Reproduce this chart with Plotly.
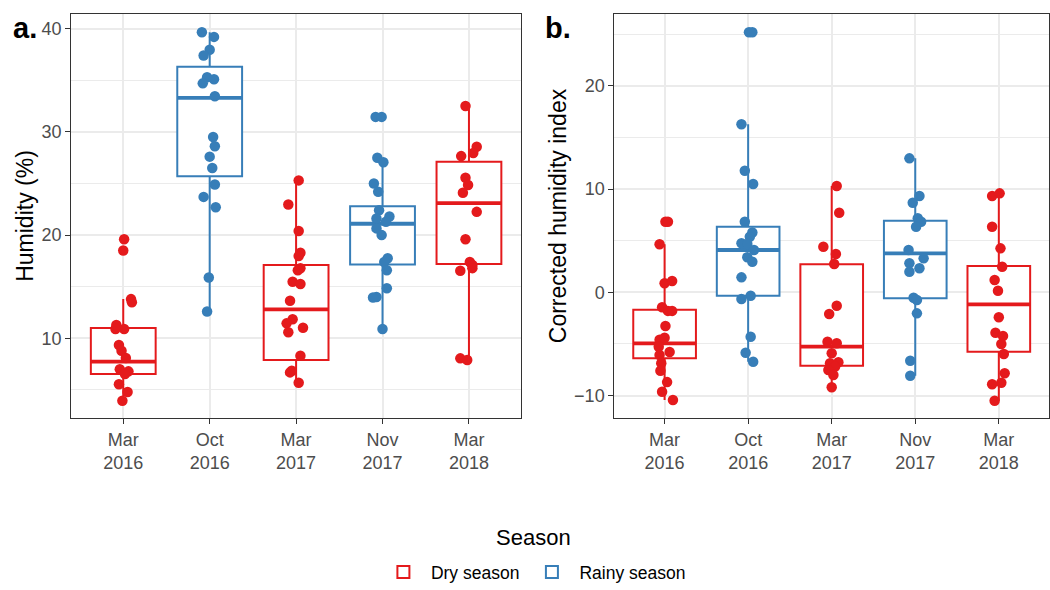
import plotly.graph_objects as go

# categories and seasons
categories = ["Mar<br>2016", "Oct<br>2016", "Mar<br>2017", "Nov<br>2017", "Mar<br>2018"]
seasons = ["Dry season", "Rainy season", "Dry season", "Rainy season", "Dry season"]
season_colors = {"Dry season": "#E41A1C", "Rainy season": "#377EB8"}

# panel a: humidity (%) per sampling campaign
humidity = [
    [19.6, 18.5, 13.8, 13.5, 11.3, 10.9, 10.9, 9.35, 8.8, 8.1, 7.0, 6.8, 6.55, 5.55, 4.8, 3.96],
    [39.65, 39.2, 37.95, 37.4, 35.3, 35.1, 34.7, 33.45, 29.5, 28.6, 27.6, 26.5, 24.9, 23.7, 22.7, 15.9, 12.6],
    [25.3, 22.97, 20.4, 18.29, 17.97, 16.78, 16.6, 15.48, 15.26, 13.64, 11.84, 11.45, 11.03, 10.58, 8.32, 6.86, 6.7, 5.7],
    [31.45, 31.45, 27.5, 27.05, 25.0, 24.2, 22.4, 21.8, 21.6, 21.3, 20.65, 20.0, 17.75, 17.4, 16.6, 14.85, 14.0, 13.95, 10.9],
    [32.5, 28.55, 27.95, 27.65, 25.55, 24.85, 24.1, 22.25, 19.6, 17.4, 17.1, 16.55, 16.8, 8.06, 7.9],
]
humidity_jitter = [
    [0.01, 0.0, 0.09, 0.10, -0.08, 0.01, -0.09, -0.05, -0.02, 0.03, -0.04, 0.06, 0.02, -0.05, 0.05, -0.01],
    [-0.09, 0.05, 0.0, -0.07, -0.03, 0.05, -0.08, 0.06, 0.04, 0.06, 0.0, 0.03, 0.06, -0.07, 0.07, -0.01, -0.03],
    [0.03, -0.09, 0.03, 0.05, 0.03, 0.05, 0.02, -0.04, 0.05, -0.07, -0.04, -0.11, 0.08, -0.09, 0.05, -0.05, -0.07, 0.03],
    [-0.08, -0.01, -0.06, 0.01, -0.1, -0.05, -0.04, 0.08, -0.07, 0.04, -0.07, -0.01, 0.06, 0.02, 0.05, 0.05, -0.07, -0.11, 0.0],
    [-0.04, 0.09, 0.05, -0.09, -0.04, -0.01, -0.07, 0.09, -0.04, 0.01, 0.04, -0.1, 0.04, -0.1, -0.02],
]
humidity_q1 = [6.55, 25.7, 7.9, 17.15, 17.2]
humidity_median = [7.75, 33.3, 12.8, 21.1, 23.1]
humidity_q3 = [11.0, 36.3, 17.1, 22.8, 27.1]
humidity_low = [3.96, 12.6, 5.7, 10.9, 7.9]
humidity_high = [13.8, 39.65, 25.3, 27.05, 32.5]

# panel b: corrected humidity index
index_vals = [
    [6.84, 6.84, 4.65, 0.87, 1.1, -1.45, -1.8, -1.8, -3.27, -4.6, -4.4, -5.27, -6.08, -5.78, -6.88, -7.6, -8.7, -9.63, -10.44],
    [25.2, 25.2, 16.28, 11.78, 10.49, 6.84, 5.8, 5.39, 4.75, 4.68, 4.1, 3.39, 2.97, 1.45, -0.33, -0.65, -4.3, -5.85, -6.72],
    [10.3, 7.71, 4.42, 3.71, 2.74, -1.3, -2.1, -4.79, -4.94, -5.91, -6.88, -6.78, -7.2, -7.53, -8.01, -9.2],
    [12.98, 9.33, 8.68, 7.17, 6.84, 6.36, 4.1, 3.29, 2.81, 2.33, 2.0, -0.52, -0.75, -2.04, -6.63, -8.08],
    [9.33, 9.59, 6.36, 4.26, 2.48, 1.19, 0.16, -2.42, -3.91, -4.23, -5.0, -5.98, -7.85, -8.76, -8.91, -10.5],
]
index_jitter = [
    [0.01, 0.04, -0.06, 0.0, 0.09, -0.03, 0.04, 0.09, 0.01, -0.06, 0.0, -0.07, -0.06, 0.06, -0.04, -0.05, 0.03, -0.03, 0.1],
    [0.01, 0.05, -0.08, -0.04, 0.06, -0.04, 0.05, 0.02, -0.08, -0.01, 0.07, -0.01, 0.05, -0.08, 0.03, -0.08, 0.03, -0.03, 0.06],
    [0.06, 0.09, -0.1, 0.05, 0.03, 0.06, -0.03, -0.05, 0.06, 0.0, -0.02, 0.08, 0.04, -0.04, 0.02, 0.0],
    [-0.07, 0.05, -0.03, 0.03, 0.07, 0.01, -0.08, 0.1, -0.07, 0.05, -0.07, -0.02, 0.02, 0.02, -0.06, -0.06],
    [-0.08, 0.01, -0.08, 0.02, 0.04, -0.05, -0.01, 0.0, -0.04, 0.05, 0.03, 0.06, 0.07, 0.03, -0.08, -0.05],
]
index_q1 = [-6.4, -0.33, -7.11, -0.58, -5.75]
index_median = [-4.95, 4.1, -5.27, 3.78, -1.16]
index_q3 = [-1.7, 6.36, 2.71, 6.94, 2.55]
index_low = [-10.44, -6.72, -9.2, -8.08, -10.5]
index_high = [4.65, 16.28, 10.3, 12.98, 9.59]

BOX_W = 0.75
FONT = "Liberation Sans, Arial, Helvetica, sans-serif"

fig = go.Figure()


def add_panel(xa, ya, vals, jit, q1, med, q3, lo, hi, showlegend):
    for season, color in season_colors.items():
        idx = [i for i, s in enumerate(seasons) if s == season]
        fig.add_trace(
            go.Box(
                x=idx,
                q1=[q1[i] for i in idx],
                median=[med[i] for i in idx],
                q3=[q3[i] for i in idx],
                lowerfence=[lo[i] for i in idx],
                upperfence=[hi[i] for i in idx],
                width=BOX_W,
                whiskerwidth=0,
                boxpoints=False,
                fillcolor="white",
                line=dict(color=color, width=2),
                name=season,
                legendgroup=season,
                showlegend=showlegend,
                xaxis=xa,
                yaxis=ya,
                hoverinfo="skip",
            )
        )
        # thicker median bar like ggplot
        mx, my = [], []
        for i in idx:
            mx += [i - BOX_W / 2, i + BOX_W / 2, None]
            my += [med[i], med[i], None]
        fig.add_trace(
            go.Scatter(
                x=mx, y=my, mode="lines", line=dict(color=color, width=3.8),
                showlegend=False, hoverinfo="skip", xaxis=xa, yaxis=ya,
            )
        )
    for season, color in season_colors.items():
        px, py = [], []
        for i, s in enumerate(seasons):
            if s != season:
                continue
            px += [i + j for j in jit[i]]
            py += vals[i]
        fig.add_trace(
            go.Scatter(
                x=px, y=py, mode="markers",
                marker=dict(color=color, size=10.5),
                showlegend=False, legendgroup=season,
                xaxis=xa, yaxis=ya,
            )
        )


add_panel("x", "y", humidity, humidity_jitter, humidity_q1, humidity_median,
          humidity_q3, humidity_low, humidity_high, True)
add_panel("x2", "y2", index_vals, index_jitter, index_q1, index_median,
          index_q3, index_low, index_high, False)

grid = "#EBEBEB"
frame = "#333333"
tickfont = dict(family=FONT, size=18, color="#4D4D4D")

xcommon = dict(
    tickvals=list(range(len(categories))),
    ticktext=categories,
    range=[-0.6, len(categories) - 0.4],
    showgrid=True, gridcolor=grid, gridwidth=1.8,
    zeroline=False,
    showline=True, mirror=True, linecolor=frame, linewidth=1.4,
    ticks="outside", ticklen=5, tickcolor=frame, tickwidth=1.3,
    tickfont=tickfont,
)
ycommon = dict(
    showgrid=True, gridcolor=grid, gridwidth=1.8,
    minor=dict(dtick=5, showgrid=True, gridcolor=grid, gridwidth=0.9),
    zeroline=False,
    showline=True, mirror=True, linecolor=frame, linewidth=1.4,
    ticks="outside", ticklen=5, tickcolor=frame, tickwidth=1.3,
    tickfont=tickfont,
    title_font=dict(family=FONT, size=23, color="black"),
    title_standoff=1,
)

fig.update_layout(
    width=1050,
    height=590,
    margin=dict(l=0, r=0, t=0, b=0),
    plot_bgcolor="white",
    paper_bgcolor="white",
    font=dict(family=FONT, color="black"),
    xaxis=dict(domain=[0.068, 0.496], anchor="y", **xcommon),
    xaxis2=dict(domain=[0.5852, 0.999], anchor="y2", **xcommon),
    yaxis=dict(domain=[0.2915, 0.9763], anchor="x", range=[2.28, 41.42],
               tickvals=[10, 20, 30, 40], title_text="Humidity (%)", **ycommon),
    yaxis2=dict(domain=[0.2915, 0.9763], anchor="x2", range=[-12.18, 26.97],
                tickvals=[-10, 0, 10, 20], title_text="Corrected humidity index", **ycommon),
    legend=dict(
        orientation="h",
        x=0.508, xanchor="center",
        y=0.0, yanchor="bottom",
        itemwidth=45,
        font=dict(family=FONT, size=17.5),
    ),
    showlegend=True,
    annotations=[
        dict(text="<b>a.</b>", x=0.010, y=0.952, xref="paper", yref="paper",
             xanchor="left", yanchor="middle", showarrow=False,
             font=dict(family=FONT, size=29, color="black")),
        dict(text="<b>b.</b>", x=0.517, y=0.952, xref="paper", yref="paper",
             xanchor="left", yanchor="middle", showarrow=False,
             font=dict(family=FONT, size=29, color="black")),
        dict(text="Season", x=0.508, y=0.0898, xref="paper", yref="paper",
             xanchor="center", yanchor="middle", showarrow=False,
             font=dict(family=FONT, size=22, color="black")),
    ],
)

fig.write_html(
    "out.html",
    config={"displayModeBar": False},
    post_script="document.body.style.margin='0px';",
)
